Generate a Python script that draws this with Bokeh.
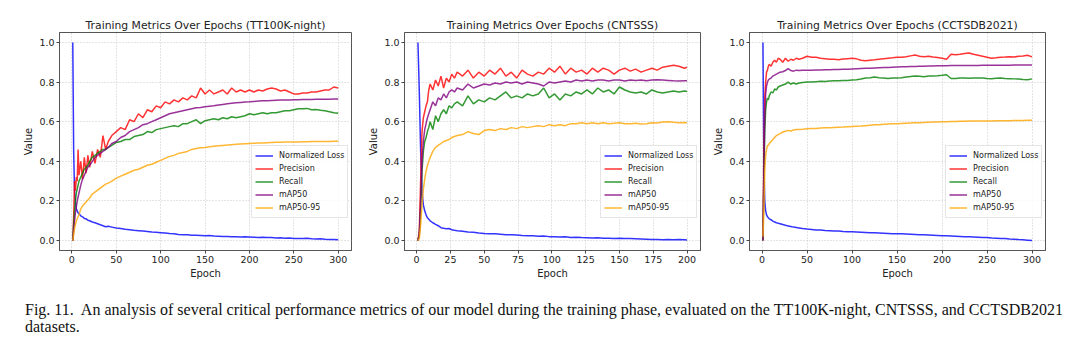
from bokeh.plotting import figure
from bokeh.layouts import row, column
from bokeh.models import Range1d, FixedTicker, Div, NumeralTickFormatter
from bokeh.embed import file_html
from bokeh.resources import INLINE

# ---------------- data ----------------
TITLES = ["Training Metrics Over Epochs (TT100K-night)",
          "Training Metrics Over Epochs (CNTSSS)",
          "Training Metrics Over Epochs (CCTSDB2021)"]
SERIES_NAMES = ["Normalized Loss", "Precision", "Recall", "mAP50", "mAP50-95"]
SERIES_COLORS = ["blue", "red", "green", "purple", "orange"]

epochs_300 = [1, 2, 3, 4, 5, 6, 7, 8, 10, 12, 14, 16, 18, 20, 23, 26, 29, 32, 35, 38, 41,
              45, 50, 55, 60, 65, 70, 75, 80, 85, 90, 95, 100, 105, 110, 115, 120, 125, 130,
              135, 140, 145, 150, 155, 160, 165, 170, 175, 180, 185, 190, 195, 200, 205, 210,
              215, 220, 225, 230, 235, 240, 245, 250, 255, 260, 265, 270, 275, 280, 285, 290,
              295, 300]
epochs_200 = [1, 2, 3, 4, 5, 6, 7, 8, 9, 10, 12, 14, 16, 18, 20, 22, 24, 26, 28, 30,
              34, 38, 42, 46, 50, 54, 58, 62, 66, 70, 74, 78, 82, 86, 90, 94, 98, 102, 106,
              110, 114, 118, 122, 126, 130, 134, 138, 142, 146, 150, 154, 158, 162, 166, 170,
              174, 178, 182, 186, 190, 194, 198, 200]

# TT100K-night
tt_loss = [1.0, 0.45, 0.25, 0.19, 0.16, 0.15, 0.14, 0.135, 0.125, 0.12, 0.112, 0.11, 0.103, 0.1,
           0.094, 0.09, 0.085, 0.08, 0.075, 0.07, 0.072, 0.068, 0.063, 0.061, 0.057, 0.055, 0.052,
           0.05, 0.048, 0.046, 0.043, 0.042, 0.04, 0.038, 0.036, 0.035, 0.031, 0.03, 0.029, 0.027,
           0.027, 0.026, 0.025, 0.026, 0.023, 0.022, 0.021, 0.021, 0.02, 0.019, 0.018, 0.019,
           0.018, 0.017, 0.016, 0.017, 0.015, 0.015, 0.013, 0.014, 0.012, 0.013, 0.011, 0.011,
           0.01, 0.012, 0.009, 0.008, 0.009, 0.007, 0.006, 0.006, 0.004]
tt_prec = [0.0, 0.12, 0.30, 0.25, 0.32, 0.30, 0.46, 0.33, 0.40, 0.31, 0.42, 0.34, 0.43, 0.37,
           0.45, 0.39, 0.46, 0.42, 0.53, 0.46, 0.50, 0.53, 0.55, 0.57, 0.56, 0.61, 0.60, 0.64,
           0.62, 0.66, 0.65, 0.68, 0.67, 0.70, 0.69, 0.71, 0.70, 0.72, 0.71, 0.73, 0.72, 0.77,
           0.74, 0.76, 0.74, 0.75, 0.76, 0.74, 0.77, 0.75, 0.76, 0.75, 0.76, 0.75, 0.76, 0.755,
           0.765, 0.77, 0.765, 0.755, 0.76, 0.75, 0.74, 0.74, 0.745, 0.745, 0.75, 0.75, 0.755,
           0.76, 0.76, 0.775, 0.77]
tt_rec = [0.0, 0.08, 0.15, 0.20, 0.24, 0.26, 0.28, 0.30, 0.32, 0.34, 0.36, 0.37, 0.38, 0.40,
          0.42, 0.43, 0.44, 0.45, 0.46, 0.46, 0.47, 0.48, 0.495, 0.50, 0.51, 0.51, 0.525, 0.53,
          0.535, 0.55, 0.545, 0.56, 0.565, 0.57, 0.575, 0.58, 0.575, 0.59, 0.59, 0.60, 0.61, 0.59,
          0.605, 0.61, 0.615, 0.61, 0.62, 0.615, 0.625, 0.62, 0.625, 0.63, 0.64, 0.635, 0.64,
          0.645, 0.64, 0.645, 0.645, 0.65, 0.655, 0.655, 0.66, 0.665, 0.665, 0.667, 0.66, 0.662,
          0.658, 0.655, 0.65, 0.645, 0.642]
tt_map50 = [0.0, 0.05, 0.10, 0.14, 0.17, 0.20, 0.22, 0.24, 0.28, 0.31, 0.33, 0.35, 0.37, 0.38,
            0.40, 0.42, 0.43, 0.44, 0.45, 0.46, 0.47, 0.49, 0.50, 0.52, 0.53, 0.55, 0.56, 0.57,
            0.585, 0.59, 0.60, 0.61, 0.62, 0.63, 0.64, 0.645, 0.65, 0.655, 0.66, 0.665, 0.67,
            0.672, 0.675, 0.678, 0.68, 0.684, 0.687, 0.69, 0.693, 0.695, 0.697, 0.699, 0.70,
            0.702, 0.704, 0.705, 0.706, 0.707, 0.708, 0.709, 0.71, 0.71, 0.711, 0.711, 0.712,
            0.712, 0.712, 0.713, 0.713, 0.713, 0.713, 0.714, 0.714]
tt_map5095 = [0.0, 0.03, 0.06, 0.08, 0.10, 0.11, 0.12, 0.13, 0.16, 0.175, 0.185, 0.195, 0.205,
              0.215, 0.235, 0.245, 0.255, 0.265, 0.275, 0.285, 0.29, 0.30, 0.315, 0.325, 0.335,
              0.345, 0.355, 0.36, 0.37, 0.38, 0.385, 0.395, 0.405, 0.415, 0.425, 0.43, 0.44, 0.445,
              0.45, 0.46, 0.465, 0.468, 0.47, 0.473, 0.476, 0.478, 0.48, 0.482, 0.484, 0.486, 0.488,
              0.489, 0.49, 0.491, 0.492, 0.493, 0.494, 0.495, 0.496, 0.496, 0.497, 0.497, 0.498,
              0.498, 0.499, 0.499, 0.5, 0.5, 0.5, 0.5, 0.5, 0.501, 0.501]

# CNTSSS
cn_loss = [1.0, 0.75, 0.45, 0.25, 0.18, 0.15, 0.13, 0.115, 0.108, 0.10, 0.09, 0.082, 0.075,
           0.065, 0.062, 0.06, 0.061, 0.055, 0.052, 0.05, 0.047, 0.043, 0.042, 0.038, 0.036,
           0.035, 0.034, 0.032, 0.03, 0.029, 0.028, 0.026, 0.025, 0.024, 0.022, 0.023, 0.02,
           0.02, 0.018, 0.019, 0.016, 0.017, 0.015, 0.014, 0.013, 0.014, 0.012, 0.012, 0.011,
           0.012, 0.01, 0.01, 0.009, 0.008, 0.007, 0.006, 0.005, 0.004, 0.005, 0.004, 0.006,
           0.004, 0.003]
cn_prec = [0.0, 0.05, 0.30, 0.55, 0.62, 0.65, 0.68, 0.70, 0.76, 0.79, 0.76, 0.81, 0.78, 0.83,
           0.77, 0.82, 0.80, 0.84, 0.82, 0.85, 0.83, 0.86, 0.82, 0.85, 0.83, 0.86, 0.84, 0.87,
           0.83, 0.85, 0.82, 0.86, 0.84, 0.83, 0.85, 0.84, 0.87, 0.85, 0.88, 0.84, 0.87, 0.85,
           0.86, 0.84, 0.87, 0.85, 0.87, 0.86, 0.84, 0.86, 0.87, 0.855, 0.865, 0.85, 0.86, 0.87,
           0.86, 0.875, 0.88, 0.885, 0.88, 0.87, 0.875]
cn_rec = [0.0, 0.03, 0.15, 0.35, 0.45, 0.50, 0.52, 0.55, 0.57, 0.60, 0.56, 0.63, 0.60, 0.64,
          0.66, 0.64, 0.68, 0.67, 0.69, 0.70, 0.68, 0.73, 0.69, 0.71, 0.70, 0.72, 0.71, 0.73,
          0.75, 0.72, 0.73, 0.72, 0.74, 0.73, 0.74, 0.77, 0.72, 0.74, 0.71, 0.74, 0.73, 0.75,
          0.74, 0.76, 0.74, 0.77, 0.75, 0.76, 0.74, 0.775, 0.76, 0.75, 0.745, 0.75, 0.74, 0.76,
          0.75, 0.745, 0.75, 0.755, 0.75, 0.755, 0.752]
cn_map50 = [0.0, 0.03, 0.20, 0.40, 0.50, 0.56, 0.59, 0.62, 0.64, 0.66, 0.70, 0.68, 0.72, 0.71,
            0.74, 0.72, 0.75, 0.76, 0.75, 0.77, 0.76, 0.79, 0.77, 0.78, 0.79, 0.785, 0.795, 0.79,
            0.80, 0.795, 0.80, 0.79, 0.80, 0.795, 0.79, 0.78, 0.80, 0.795, 0.80, 0.805, 0.80,
            0.81, 0.805, 0.81, 0.805, 0.81, 0.81, 0.805, 0.81, 0.81, 0.805, 0.81, 0.808, 0.81,
            0.806, 0.81, 0.812, 0.81, 0.808, 0.806, 0.805, 0.807, 0.806]
cn_map5095 = [0.0, 0.01, 0.08, 0.18, 0.26, 0.31, 0.35, 0.38, 0.40, 0.42, 0.45, 0.47, 0.48, 0.49,
              0.50, 0.505, 0.51, 0.52, 0.525, 0.53, 0.535, 0.55, 0.54, 0.535, 0.555, 0.56, 0.555,
              0.565, 0.56, 0.57, 0.565, 0.575, 0.57, 0.575, 0.58, 0.575, 0.585, 0.58, 0.585, 0.58,
              0.59, 0.59, 0.595, 0.59, 0.595, 0.59, 0.595, 0.59, 0.592, 0.595, 0.59, 0.59, 0.592,
              0.588, 0.59, 0.595, 0.593, 0.598, 0.60, 0.597, 0.595, 0.596, 0.595]

# CCTSDB2021
cc_loss = [1.0, 0.40, 0.20, 0.15, 0.13, 0.12, 0.115, 0.11, 0.105, 0.098, 0.094, 0.09, 0.087,
           0.085, 0.081, 0.077, 0.074, 0.071, 0.068, 0.066, 0.064, 0.061, 0.058, 0.056, 0.054,
           0.053, 0.051, 0.05, 0.049, 0.048, 0.046, 0.045, 0.044, 0.043, 0.042, 0.041, 0.04,
           0.039, 0.038, 0.037, 0.036, 0.035, 0.035, 0.034, 0.033, 0.032, 0.031, 0.03, 0.029,
           0.028, 0.027, 0.026, 0.025, 0.024, 0.023, 0.022, 0.021, 0.02, 0.019, 0.018, 0.017,
           0.016, 0.015, 0.013, 0.012, 0.011, 0.01, 0.008, 0.007, 0.005, 0.004, 0.002, 0.0]
cc_prec = [0.0, 0.45, 0.72, 0.80, 0.85, 0.86, 0.88, 0.89, 0.88, 0.90, 0.91, 0.90, 0.92, 0.915,
           0.90, 0.92, 0.905, 0.915, 0.91, 0.92, 0.915, 0.92, 0.93, 0.925, 0.925, 0.92, 0.918,
           0.915, 0.915, 0.912, 0.916, 0.918, 0.92, 0.917, 0.91, 0.908, 0.91, 0.912, 0.915, 0.918,
           0.92, 0.922, 0.925, 0.925, 0.928, 0.932, 0.936, 0.93, 0.928, 0.93, 0.926, 0.924, 0.92,
           0.915, 0.94, 0.938, 0.94, 0.944, 0.947, 0.94, 0.935, 0.93, 0.925, 0.92, 0.922, 0.925,
           0.926, 0.928, 0.926, 0.93, 0.932, 0.935, 0.927]
cc_rec = [0.0, 0.30, 0.55, 0.66, 0.70, 0.72, 0.71, 0.73, 0.75, 0.745, 0.765, 0.76, 0.775, 0.78,
          0.785, 0.79, 0.80, 0.79, 0.795, 0.79, 0.795, 0.798, 0.80, 0.80, 0.802, 0.804, 0.803,
          0.805, 0.806, 0.807, 0.808, 0.808, 0.81, 0.812, 0.815, 0.82, 0.822, 0.825, 0.822, 0.82,
          0.818, 0.82, 0.82, 0.822, 0.826, 0.828, 0.83, 0.829, 0.827, 0.83, 0.831, 0.832, 0.834,
          0.837, 0.818, 0.818, 0.82, 0.82, 0.819, 0.82, 0.821, 0.82, 0.818, 0.817, 0.819, 0.82,
          0.818, 0.817, 0.816, 0.815, 0.813, 0.812, 0.816]
cc_map50 = [0.0, 0.35, 0.62, 0.74, 0.78, 0.80, 0.81, 0.815, 0.82, 0.83, 0.835, 0.84, 0.845,
            0.85, 0.852, 0.858, 0.868, 0.858, 0.855, 0.86, 0.858, 0.86, 0.86, 0.86, 0.861, 0.861,
            0.862, 0.862, 0.863, 0.863, 0.864, 0.865, 0.866, 0.867, 0.868, 0.869, 0.87, 0.871,
            0.872, 0.873, 0.874, 0.875, 0.876, 0.877, 0.877, 0.878, 0.879, 0.88, 0.88, 0.881,
            0.881, 0.882, 0.882, 0.882, 0.883, 0.883, 0.883, 0.884, 0.884, 0.884, 0.884, 0.885,
            0.885, 0.885, 0.885, 0.885, 0.885, 0.885, 0.886, 0.886, 0.886, 0.886, 0.886]
cc_map5095 = [0.02, 0.15, 0.35, 0.43, 0.46, 0.48, 0.48, 0.49, 0.50, 0.51, 0.52, 0.53, 0.535,
              0.54, 0.548, 0.552, 0.556, 0.553, 0.558, 0.56, 0.561, 0.562, 0.564, 0.565, 0.566,
              0.568, 0.569, 0.57, 0.571, 0.572, 0.573, 0.575, 0.576, 0.577, 0.578, 0.58, 0.582,
              0.584, 0.585, 0.587, 0.588, 0.589, 0.59, 0.591, 0.592, 0.593, 0.594, 0.595, 0.596,
              0.597, 0.598, 0.599, 0.60, 0.60, 0.601, 0.601, 0.602, 0.602, 0.603, 0.603, 0.603,
              0.604, 0.604, 0.604, 0.605, 0.605, 0.605, 0.605, 0.606, 0.606, 0.606, 0.607, 0.607]

y_ticks = [0.0, 0.2, 0.4, 0.6, 0.8, 1.0]
x_ticks_300 = [0, 50, 100, 150, 200, 250, 300]
x_ticks_200 = [0, 25, 50, 75, 100, 125, 150, 175, 200]

CAPTION = ("Fig. 11.&nbsp; An analysis of several critical performance metrics of our model "
           "during the training phase, evaluated on the TT100K-night, CNTSSS, and CCTSDB2021"
           "<br>datasets.")

FONT = "DejaVu Sans"


def make_panel(title, epochs, series, xticks, frame_w, b_left, b_right):
    n_max = epochs[-1]
    n_min = epochs[0]
    pad = 0.05 * (n_max - n_min)
    p = figure(frame_width=frame_w, frame_height=218,
               x_range=Range1d(n_min - pad, n_max + pad), y_range=Range1d(-0.05, 1.05),
               output_backend="svg", toolbar_location=None,
               min_border_left=b_left, min_border_right=b_right,
               min_border_top=32, min_border_bottom=40)
    p.title.text = title
    p.title.align = "center"
    p.title.text_font = FONT
    p.title.text_font_size = "10.8px"
    p.title.text_font_style = "normal"
    p.title.text_color = "#222222"
    p.title.standoff = 2
    for name, color, vals in zip(SERIES_NAMES, SERIES_COLORS, series):
        p.line(epochs, vals, line_color=color, line_width=1.5, line_alpha=0.8,
               legend_label=name)
    p.xaxis.ticker = FixedTicker(ticks=xticks)
    p.yaxis.ticker = FixedTicker(ticks=y_ticks)
    p.yaxis.formatter = NumeralTickFormatter(format="0.0")
    p.xaxis.axis_label = "Epoch"
    p.yaxis.axis_label = "Value"
    for ax in (p.xaxis[0], p.yaxis[0]):
        ax.axis_label_text_font = FONT
        ax.axis_label_text_font_size = "10px"
        ax.axis_label_text_font_style = "normal"
        ax.axis_label_text_color = "#222222"
        ax.major_label_text_font = FONT
        ax.major_label_text_font_size = "9.5px"
        ax.major_label_text_color = "#222222"
        ax.major_tick_out = 3
        ax.major_tick_in = 0
        ax.minor_tick_out = 0
        ax.minor_tick_in = 0
        ax.major_tick_line_color = "#444444"
        ax.axis_line_color = "#555555"
        ax.major_label_standoff = 2
        ax.axis_label_standoff = 2
    p.outline_line_color = "#555555"
    p.outline_line_alpha = 1
    p.grid.grid_line_color = "#c8c8c8"
    p.grid.grid_line_dash = "1 2"
    p.grid.grid_line_alpha = 1
    lg = p.legend[0]
    lg.label_text_font = FONT
    lg.label_text_font_size = "8px"
    lg.label_text_color = "#222222"
    lg.glyph_width = 18
    lg.glyph_height = 13
    lg.label_height = 13
    lg.label_standoff = 6
    lg.padding = 3
    lg.spacing = 0
    lg.margin = 0
    lg.border_line_color = "#cccccc"
    lg.border_line_width = 1
    lg.background_fill_alpha = 0.85
    lg.location = (frame_w - 100, 32)
    return p


p1 = make_panel(TITLES[0], epochs_300, [tt_loss, tt_prec, tt_rec, tt_map50, tt_map5095],
                x_ticks_300, 292, 59, 5)
p2 = make_panel(TITLES[1], epochs_200, [cn_loss, cn_prec, cn_rec, cn_map50, cn_map5095],
                x_ticks_200, 296, 48, 4)
p3 = make_panel(TITLES[2], epochs_300, [cc_loss, cc_prec, cc_rec, cc_map50, cc_map5095],
                x_ticks_300, 296, 45, 5)

caption = Div(text=('<div style="font-family: \'Liberation Serif\', serif; font-size: 16px; '
                    'line-height: 17px; color: #111; white-space: nowrap; '
                    'padding-top: 6px; padding-left: 20px;">' + CAPTION + '</div>'),
              width=1070, height=60)

layout = column(row(p1, p2, p3), caption)

open("out.html", "w").write(file_html(layout, INLINE))
